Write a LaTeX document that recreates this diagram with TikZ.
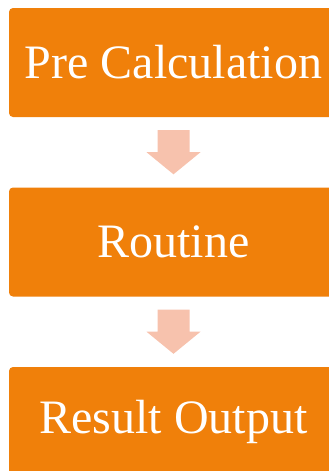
\documentclass[tikz,border=0pt]{standalone}
\usepackage{fontspec}
\setmainfont{Liberation Serif}
\usetikzlibrary{calc}
\definecolor{boxorange}{RGB}{240,128,10}
\definecolor{arrowpink}{RGB}{247,194,173}
\tikzset{
	stepbox/.style={fill=boxorange, rounded corners=4pt, minimum width=329pt, minimum height=109pt, inner sep=0pt, text=white, font=\fontsize{48pt}{52pt}\selectfont},
	arrowfill/.style={fill=arrowpink}
}
\begin{document}
\begin{tikzpicture}
	\useasboundingbox (0,0) rectangle (329pt,-471pt);
	\clip (0,0) rectangle (329pt,-471pt);
	
	\node[stepbox] (pre) at (173.5pt,-62.5pt) {Pre Calculation};
	\node[stepbox] (rout) at (173.5pt,-242pt) {Routine};
	\node[stepbox] (res) at (173.5pt,-421.5pt) {Result Output};
	
	\foreach \a/\b in {pre/rout, rout/res}{
		\fill[arrowfill] ($(\a.south)+(-16pt,-13pt)$) -- ++(32pt,0) -- ++(0,-22pt) -- ++(11pt,0)
			-- ($(\b.north)+(0,13pt)$) -- ($(\a.south)+(-27pt,-35pt)$) -- ++(11pt,0) -- cycle;
	}
\end{tikzpicture}
\end{document}
